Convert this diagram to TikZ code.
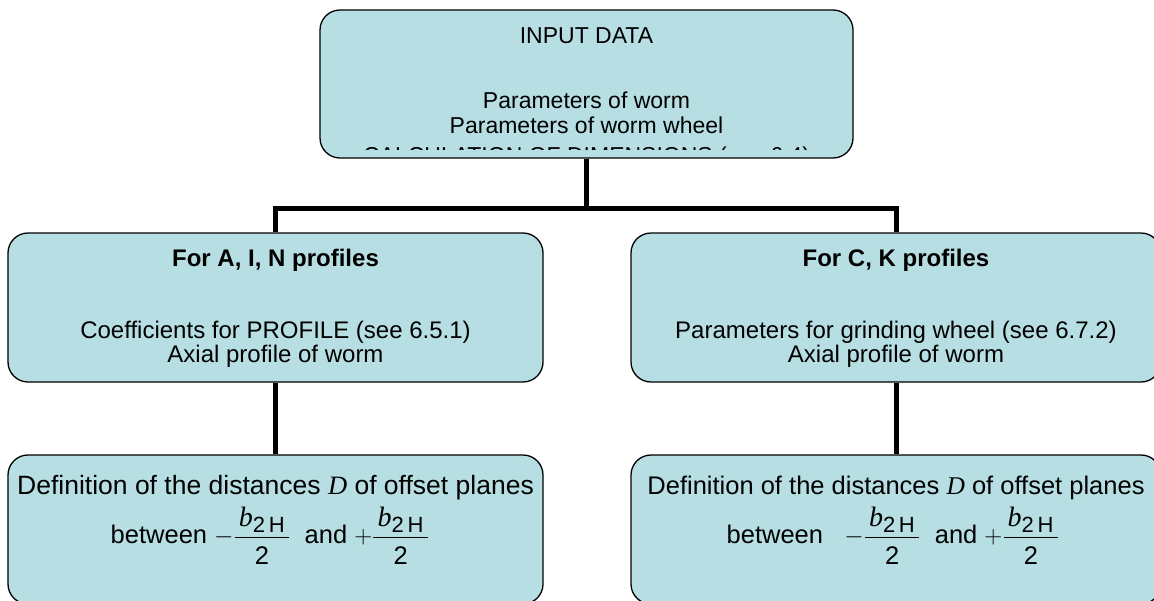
\documentclass[tikz,border=0pt]{standalone}
\usepackage{fontspec}
\setmainfont{Liberation Sans}
\newfontfamily\tmsfont{Liberation Serif}
\definecolor{boxfill}{RGB}{183,223,227}
\newcommand{\bH}{\mbox{\fontsize{28}{30}\selectfont\tmsfont\itshape b}_{\mbox{\fontsize{22}{24}\selectfont 2\,H}}}
\newcommand{\itD}{{\tmsfont\itshape D}}
\newcommand{\halfB}[1]{#1\frac{\,\bH\,}{\mbox{2}\rule{0pt}{1.05em}}}
\tikzset{
  box/.style={draw=black, line width=1.3pt, fill=boxfill, rounded corners=20pt, inner sep=0pt},
  conn/.style={line width=5pt, line join=miter},
  txt/.style={inner sep=0pt, anchor=base, font=\fontsize{23}{27}\selectfont},
  midtxt/.style={txt, font=\fontsize{24}{28}\selectfont},
  hd/.style={txt, font=\fontsize{24}{28}\selectfont\bfseries},
  lowtxt/.style={txt, font=\fontsize{25.5}{30}\selectfont},
  lowtxtl/.style={txt, font=\fontsize{26.5}{31}\selectfont},
}
\begin{document}
\begin{tikzpicture}[x=1pt,y=-1pt]
\useasboundingbox (0,0) rectangle (1154,600);
\clip (0,0) rectangle (1154,600);

% boxes
\node[box, minimum width=533pt, minimum height=148pt] (top) at (586.5,84) {};
\node[box, minimum width=535pt, minimum height=149pt] (ml) at (275.5,307.5) {};
\node[box, minimum width=530pt, minimum height=149pt] (mr) at (896,307.5) {};
\node[box, minimum width=535pt, minimum height=149pt] (ll) at (275.5,529.5) {};
\node[box, minimum width=530pt, minimum height=149pt] (lr) at (896,529.5) {};

% connectors
\coordinate (j) at (586.5,208);
\draw[conn] (top.south) -- (j);
\draw[conn] (ml.north) -- (ml.north |- j) -- (mr.north |- j) -- (mr.north);
\draw[conn] (ml.south) -- (ll.north);
\draw[conn] (mr.south) -- (lr.north);

% top texts
\node[txt] (t1) at (586.5,43) {INPUT DATA};
\node[txt] (t2) at (586.5,108) {Parameters of worm};
\node[txt] (t3) at (586.5,133) {Parameters of worm wheel};
\begin{scope}
\clip (330,140) rectangle (845,149.5);
\node[txt] (t4) at (586.5,163.5) {CALCULATION OF DIMENSIONS (see 6.4)};
\end{scope}

% middle left
\node[hd] (ml1) at (275.5,266) {For A, I, N profiles};
\node[midtxt] (ml2) at (275.5,338) {Coefficients for PROFILE (see 6.5.1)};
\node[midtxt] (ml3) at (275.5,362) {Axial profile of worm};

% middle right
\node[hd] (mr1) at (896,266) {For C, K profiles};
\node[midtxt] (mr2) at (896,338) {Parameters for grinding wheel (see 6.7.2)};
\node[midtxt] (mr3) at (896,362) {Axial profile of worm};

% lower left
\node[lowtxtl] (ll1) at (275.5,494) {Definition of the distances \itD{} of offset planes};
\node[lowtxt] (ll2) at (270,543) {between\ $\displaystyle \halfB{-}$\ \ and\ $\displaystyle \halfB{+}$};

% lower right
\node[lowtxt] (lr1) at (896,494) {Definition of the distances \itD{} of offset planes};
\node[lowtxt] (lr2) at (893,543) {between\ \ \ $\displaystyle \halfB{-}$\ \ and\ $\displaystyle \halfB{+}$};
\end{tikzpicture}
\end{document}
